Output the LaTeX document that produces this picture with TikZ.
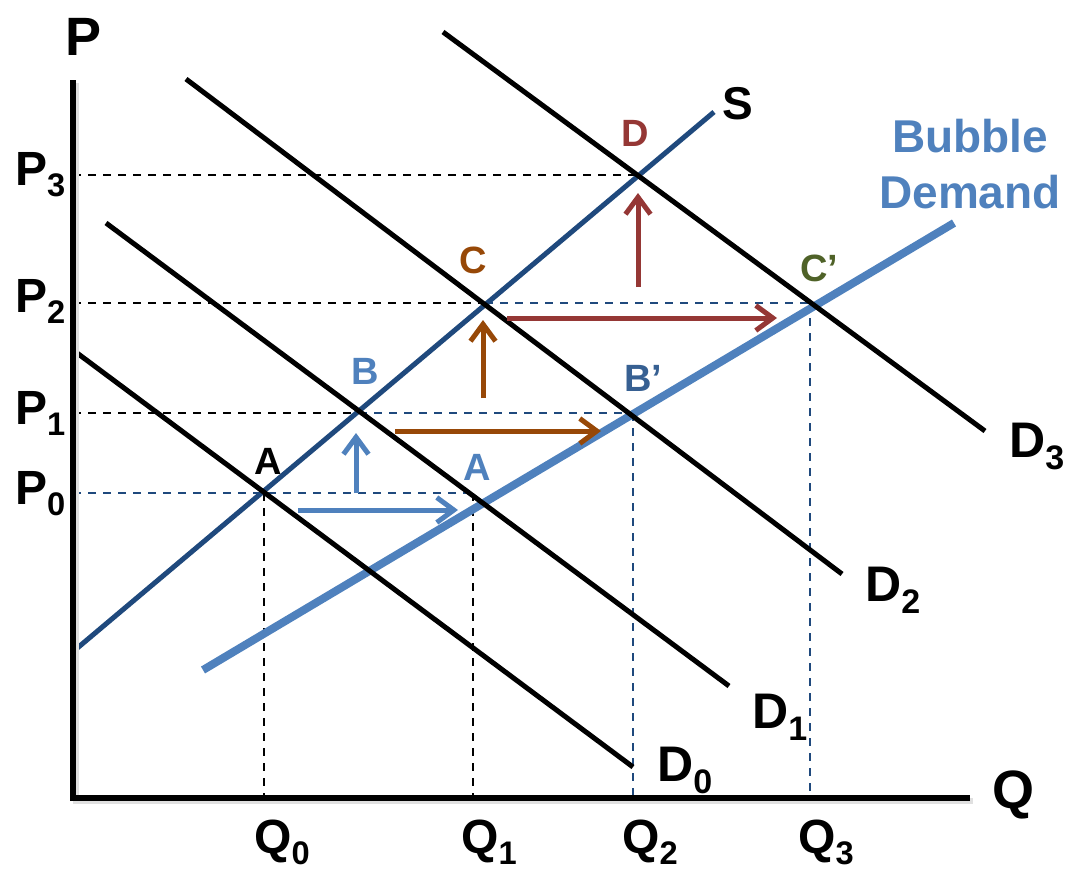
\documentclass[tikz,border=0pt]{standalone}
\usepackage{fontspec}
\setmainfont{Liberation Sans}
\usetikzlibrary{arrows.meta, positioning, calc}
\definecolor{cSupply}{RGB}{31,73,125}
\definecolor{cBubble}{RGB}{79,129,189}
\definecolor{cBrown}{RGB}{151,72,7}
\definecolor{cDarkRed}{RGB}{149,55,53}
\definecolor{cOlive}{RGB}{79,98,40}
\definecolor{cTeal}{RGB}{55,96,146}
\newcommand{\idx}[1]{\raisebox{-0.24em}{\scalebox{0.68}{#1}}}
\newcommand{\fs}[1]{\fontsize{#1}{#1}\selectfont\bfseries}
\tikzset{
	axisline/.style  ={line width=6pt},
	demand/.style    ={line width=5pt},
	supply/.style    ={line width=5pt, cSupply},
	bubble/.style    ={line width=8pt, cBubble},
	guide/.style     ={line width=2pt, dash pattern=on 8pt off 7pt},
	shiftarrow/.style={line width=5pt, -{Straight Barb[length=17pt, width=25pt]}},
	% labels
	ticklabel/.style ={inner sep=0pt, anchor=base west, font=\fs{48}},
	curvelabel/.style={inner sep=0pt, anchor=base west, font=\fs{50}},
	ptlabel/.style   ={inner sep=0pt, font=\fs{38}},
}
\begin{document}
\begin{tikzpicture}[x=1pt,y=-1pt]
	\useasboundingbox (0,0) rectangle (1066,870);
	% equilibrium points
	\coordinate (O) at (73,798);
	\coordinate (A) at (264,493);
	\coordinate (B) at (359,413);
	\coordinate (C) at (485,303);
	\coordinate (D) at (638,175);
	\coordinate (Ab) at (473,493);
	\coordinate (Bb) at (633,413);
	\coordinate (Cb) at (810,303);
	% guides
	\draw[guide] (O |- D) -- (D);
	\draw[guide] (O |- C) -- (C);
	\draw[guide, cSupply] (C) -- (Cb);
	\draw[guide] (O |- B) -- (B);
	\draw[guide, cSupply] (B) -- (Bb);
	\draw[guide, cSupply] (O |- A) -- (Ab);
	\draw[guide] (A) -- (A |- O);
	\draw[guide] (Ab) -- (Ab |- O);
	\draw[guide, cSupply] (Bb) -- (Bb |- O);
	\draw[guide, cSupply] (Cb) -- (Cb |- O);
	% curves
	\draw[bubble] (203,670) -- (954,223);
	\draw[supply] (75,650) -- (714,112);
	\foreach \xa/\ya/\xb/\yb in {73/350/633/767, 106/223/729/686, 186/79/842/574, 443/32/985/431}
		\draw[demand] (\xa,\ya) -- (\xb,\yb);
	% axes
	\draw[axisline, black!12] (76,83) -- (76,801) -- (973,801);
	\draw[axisline] (73,80) -- (O) -- (970,798);
	% shifts
	\draw[shiftarrow, cBubble] (298,510) -- (458,510);
	\draw[shiftarrow, cBubble] (356,493) -- (356,433);
	\draw[shiftarrow, cBrown] (395,431) -- (601,431);
	\draw[shiftarrow, cBrown] (483,398) -- (483,320);
	\draw[shiftarrow, cDarkRed] (507,318) -- (777,318);
	\draw[shiftarrow, cDarkRed] (638,287) -- (638,193);
	% axis and tick labels
	\node[inner sep=0pt, anchor=base west, font=\fs{54}] (plab) at (65,55) {P};
	\node[inner sep=0pt, anchor=base west, font=\fs{54}] (qlab) at (992,808) {Q};
	\foreach \i/\y in {3/185, 2/312, 1/424, 0/504}
		\node[ticklabel] (p\i) at (15,\y) {P\idx{\i}};
	\foreach \i/\x in {0/254, 1/461, 2/622, 3/798}
		\node[ticklabel] (q\i) at (\x,853) {Q\idx{\i}};
	\foreach \i/\x/\y in {0/657/781, 1/752/728, 2/865/601, 3/1009/457}
		\node[curvelabel] (d\i) at (\x,\y) {D\idx{\i}};
	\node[inner sep=0pt, anchor=base west, font=\fs{46}] (slab) at (722,119) {S};
	\node[inner sep=0pt, anchor=base, align=center, font=\fontsize{46}{56}\selectfont\bfseries, text=cBubble] (bublab) at (970,208) {Bubble\\Demand};
	% point labels
	\node[ptlabel] (lA) at (268,461) {A};
	\node[ptlabel, text=cBubble] (lAb) at (477,467) {A};
	\node[ptlabel, text=cBubble] (lB) at (365,371) {B};
	\node[ptlabel, text=cTeal] (lBb) at (643,378) {B’};
	\node[ptlabel, text=cBrown] (lC) at (473,260) {C};
	\node[ptlabel, text=cOlive] (lCb) at (819,268) {C’};
	\node[ptlabel, text=cDarkRed] (lD) at (635,133) {D};
\end{tikzpicture}
\end{document}
